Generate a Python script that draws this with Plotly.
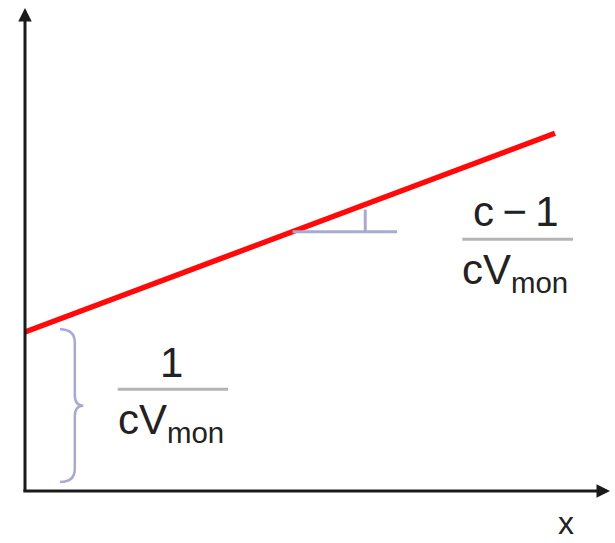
import numpy as np
import plotly.graph_objects as go

# BET-type linear plot: y = 1/(c*Vmon) + (c-1)/(c*Vmon) * x
intercept = 3.0          # 1 / (c Vmon)
slope = 0.375            # (c - 1) / (c Vmon)
x_line = [0.0, 10.0]     # extent of the fitted line

# slope marker: horizontal run start/end and the rise position
run_x = [5.05, 7.02]
rise_x = 6.42

# text labels
numer_left = "1"
denom_left = "cV<sub>mon</sub>"
numer_right = "c\u2009\u2212\u20091"
denom_right = "cV<sub>mon</sub>"
x_title = "x"

# pixel-like scaling of the canvas (53 px per unit, origin near lower left)
W, H = 615, 543
scale = 53.0
ox, oy = 25, 491
x_range = [-ox / scale, (W - ox) / scale]
y_range = [-(H - oy) / scale, oy / scale]

def f(x):
    return intercept + slope * np.asarray(x)

fig = go.Figure()

# fitted line
fig.add_trace(go.Scatter(x=x_line, y=f(x_line).tolist(), mode="lines",
                         line=dict(color="#ff0a0a", width=5.5), hoverinfo="skip"))

tri_color = "#a9a9d2"
y_run = float(f(run_x[0]))
# horizontal run
fig.add_trace(go.Scatter(x=run_x, y=[y_run, y_run], mode="lines",
                         line=dict(color=tri_color, width=3), hoverinfo="skip"))
# vertical rise
fig.add_trace(go.Scatter(x=[rise_x, rise_x], y=[y_run, float(f(rise_x)) - 0.1], mode="lines",
                         line=dict(color=tri_color, width=3), hoverinfo="skip"))

# curly brace spanning the intercept
b_lo, b_hi = 0.17, intercept + 0.05
b_mid = (b_lo + b_hi) / 2
bx0, bx1, bx2 = 0.66, 0.94, 1.10
path = (f"M {bx0},{b_hi} Q {bx1},{b_hi} {bx1},{b_hi-0.25} "
        f"L {bx1},{b_mid+0.2} Q {bx1},{b_mid} {bx2},{b_mid} "
        f"Q {bx1},{b_mid} {bx1},{b_mid-0.2} "
        f"L {bx1},{b_lo+0.25} Q {bx1},{b_lo} {bx0},{b_lo}")
fig.add_shape(type="path", path=path, xref="x", yref="y",
              line=dict(color=tri_color, width=2.5))

# fraction bars
bar_color = "#b4b4b4"
fig.add_shape(type="line", x0=1.75, x1=3.83, y0=1.92, y1=1.92,
              line=dict(color=bar_color, width=3))
fig.add_shape(type="line", x0=8.25, x1=10.34, y0=4.75, y1=4.75,
              line=dict(color=bar_color, width=3))

txt_font = dict(family="Liberation Sans, Arial, sans-serif", size=42, color="#222222")
for xx, yy, t in [(2.77, 2.42, numer_left), (2.75, 1.30, denom_left),
                  (9.27, 5.28, numer_right), (9.25, 4.13, denom_right)]:
    fig.add_annotation(x=xx, y=yy, text=t, showarrow=False, font=txt_font,
                       xanchor="center", yanchor="middle")

fig.add_annotation(x=10.2, y=-0.6, text=x_title, showarrow=False,
                   font=dict(family="Liberation Sans, Arial, sans-serif", size=32, color="#222222"))

# axes with arrow heads
axis_color = "#1a1a1a"
fig.add_annotation(x=0, y=(oy - 8) / scale, ax=0, ay=-0.02, xref="x", yref="y",
                   axref="x", ayref="y", showarrow=True, arrowhead=2, arrowsize=0.9,
                   arrowwidth=3, arrowcolor=axis_color, text="")
fig.add_annotation(x=(610 - ox) / scale, y=0, ax=-0.06, ay=0, xref="x", yref="y",
                   axref="x", ayref="y", showarrow=True, arrowhead=2, arrowsize=0.9,
                   arrowwidth=3, arrowcolor=axis_color, text="")

fig.update_layout(
    width=W, height=H, margin=dict(l=0, r=0, t=0, b=0),
    paper_bgcolor="white", plot_bgcolor="white", showlegend=False,
    xaxis=dict(range=x_range, visible=False, fixedrange=True),
    yaxis=dict(range=y_range, visible=False, fixedrange=True),
)

fig.write_html("out.html")
